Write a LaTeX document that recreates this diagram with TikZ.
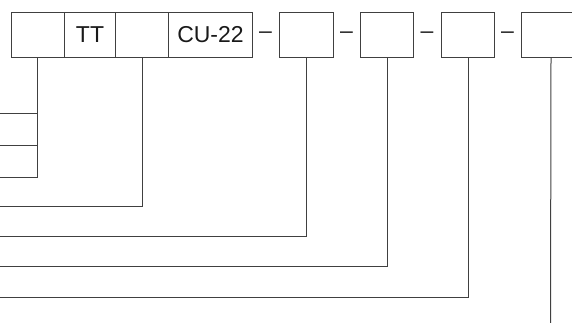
\documentclass[tikz,border=0pt]{standalone}
\usepackage{fontspec}
\setmainfont{Liberation Sans}
\begin{document}
\begin{tikzpicture}[x=1pt,y=-1pt,
  ln/.style={draw=black!75,line width=1pt},
  cell/.style={ln,inner sep=0pt,minimum height=45pt,anchor=north west,
    font=\fontsize{23}{27}\selectfont,text=black!90},
  sep/.style={inner sep=0pt,font=\fontsize{23}{27}\selectfont,text=black!85}]
\useasboundingbox (0,0) rectangle (572,322);
\clip (0,0) rectangle (572,322);
% boxes
\node[cell,minimum width=53pt] (b1) at (11,12) {};
\node[cell,minimum width=51pt] (b2) at (64,12) {TT};
\node[cell,minimum width=53pt] (b3) at (115,12) {};
\node[cell,minimum width=84pt] (b4) at (168,12) {CU-22};
\node[cell,minimum width=54pt] (b5) at (279,12) {};
\node[cell,minimum width=53pt] (b6) at (360,12) {};
\node[cell,minimum width=53pt] (b7) at (441,12) {};
\node[cell,minimum width=59pt] (b8) at (521,12) {};
% dashes
\node[sep] (d1) at (265.5,35.5) {–};
\node[sep] (d2) at (346.5,35.5) {–};
\node[sep] (d3) at (427,35.5) {–};
\node[sep] (d4) at (507.5,35.5) {–};
% free ends
\coordinate (e1) at (-5,113);
\coordinate (e2) at (-5,145);
\coordinate (e3) at (-5,177);
\coordinate (e4) at (-5,206);
\coordinate (e5) at (-5,236);
\coordinate (e6) at (-5,266);
\coordinate (e7) at (-5,297);
\coordinate (e8) at (550.5,330);
% connectors
\draw[ln] ([xshift=-0.5pt]b1.south) |- (e3);
\draw[ln] ([xshift=-0.5pt]b1.south |- e1) -- (e1);
\draw[ln] ([xshift=-0.5pt]b1.south |- e2) -- (e2);
\draw[ln] (b3.south) |- (e4);
\draw[ln] (b5.south) |- (e5);
\draw[ln] (b6.south) |- (e6);
\draw[ln] (b7.south) |- (e7);
\draw[ln] (b8.south) -- (e8);
\end{tikzpicture}
\end{document}
